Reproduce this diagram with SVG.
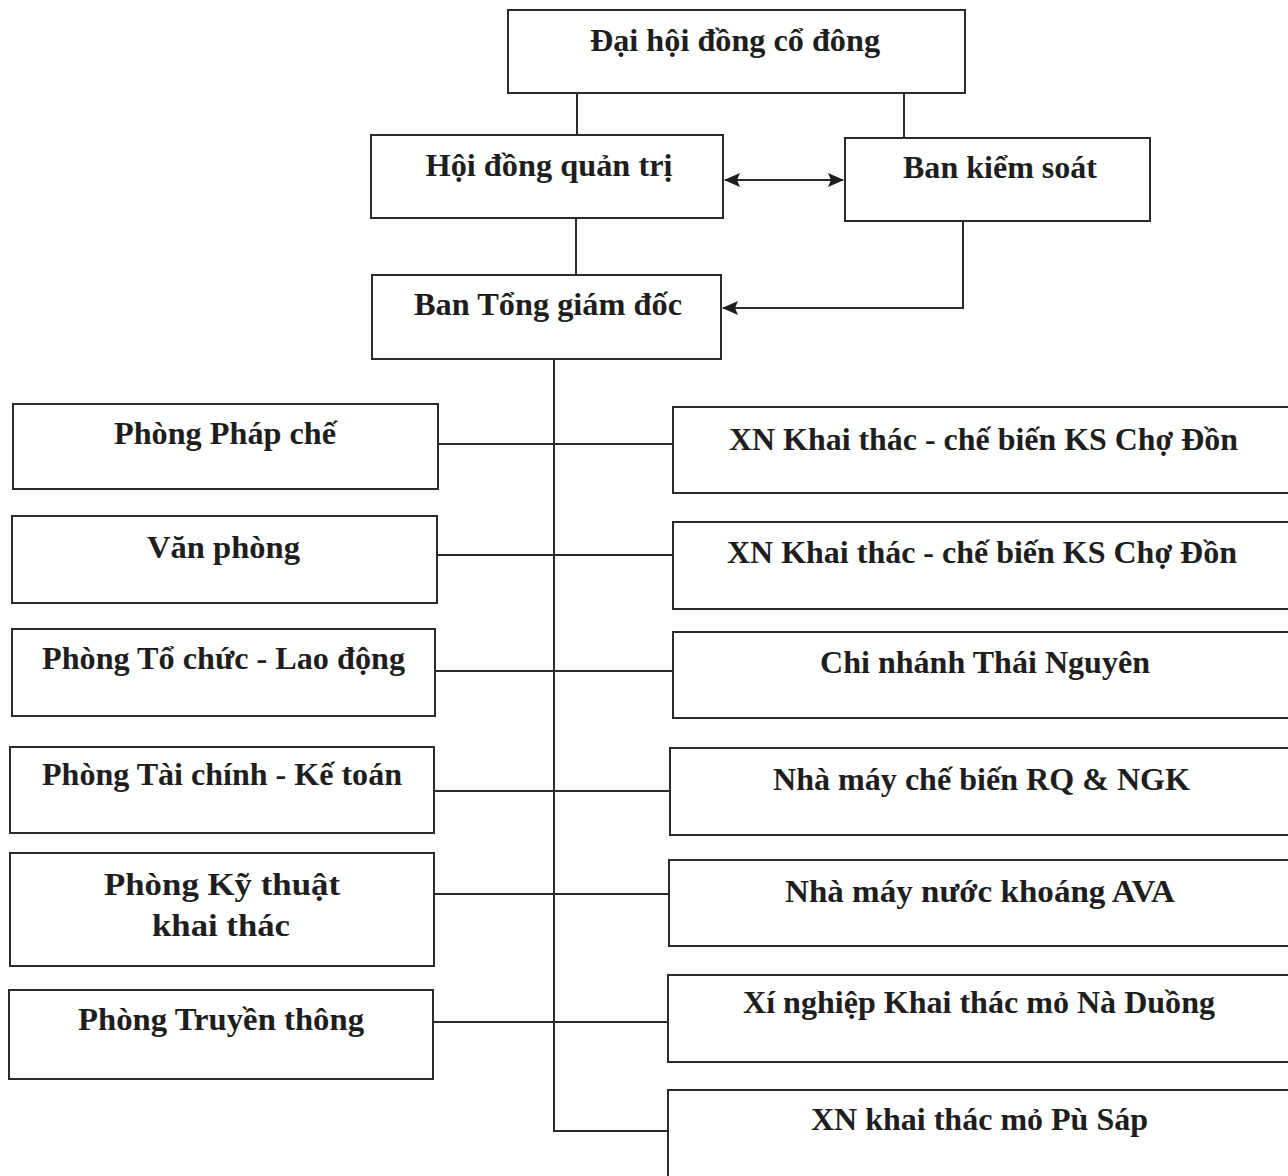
<svg xmlns="http://www.w3.org/2000/svg" width="1288" height="1176" viewBox="0 0 1288 1176">
<style>
.box{fill:#fff;stroke:#2b2b2b;stroke-width:2}
.t{font-family:"Liberation Serif","Times New Roman",serif;font-weight:bold;font-size:31px;fill:#1e1e1e;text-anchor:middle}
.c{fill:none;stroke:#2b2b2b;stroke-width:2}
</style>
<defs>
<marker id="ah" markerUnits="userSpaceOnUse" markerWidth="16" markerHeight="14" refX="15" refY="7" orient="auto-start-reverse">
<path d="M0,0 L16,7 L0,14 L3,7 Z" fill="#1e1e1e"/>
</marker>
</defs>
<rect width="1288" height="1176" fill="#fdfdfc"/>
<g id="connectors">
<path class="c" d="M577 93 V135"/>
<path class="c" d="M904 93 V138"/>
<path class="c" d="M725 180 H843" marker-start="url(#ah)" marker-end="url(#ah)"/>
<path class="c" d="M576 218 V275"/>
<path class="c" d="M963 221 V308 H723" marker-end="url(#ah)"/>
<path class="c" d="M554 359 V1131 H668"/>
<path class="c" d="M438 444 H673"/>
<path class="c" d="M437 555 H673"/>
<path class="c" d="M435 671 H673"/>
<path class="c" d="M434 791 H670"/>
<path class="c" d="M434 894 H669"/>
<path class="c" d="M433 1022 H668"/>
</g>
<g id="dhdcd"><rect class="box" x="508" y="10" width="457" height="83"/><text class="t" x="735" y="51" textLength="290" lengthAdjust="spacingAndGlyphs">Đại hội đồng cổ đông</text></g>
<g id="hdqt"><rect class="box" x="371" y="135" width="352" height="83"/><text class="t" x="549" y="176" textLength="247" lengthAdjust="spacingAndGlyphs">Hội đồng quản trị</text></g>
<g id="bks"><rect class="box" x="845" y="138" width="305" height="83"/><text class="t" x="1000" y="178" textLength="194" lengthAdjust="spacingAndGlyphs">Ban kiểm soát</text></g>
<g id="btgd"><rect class="box" x="372" y="275" width="349" height="84"/><text class="t" x="548" y="315" textLength="268" lengthAdjust="spacingAndGlyphs">Ban Tổng giám đốc</text></g>
<g id="phapche"><rect class="box" x="13" y="404" width="425" height="85"/><text class="t" x="225" y="444" textLength="222" lengthAdjust="spacingAndGlyphs">Phòng Pháp chế</text></g>
<g id="vanphong"><rect class="box" x="12" y="516" width="425" height="87"/><text class="t" x="223.5" y="558" textLength="153" lengthAdjust="spacingAndGlyphs">Văn phòng</text></g>
<g id="tochuc"><rect class="box" x="12" y="629" width="423" height="87"/><text class="t" x="223.5" y="669" textLength="363" lengthAdjust="spacingAndGlyphs">Phòng Tổ chức - Lao động</text></g>
<g id="taichinh"><rect class="box" x="10" y="747" width="424" height="86"/><text class="t" x="222" y="785" textLength="360" lengthAdjust="spacingAndGlyphs">Phòng Tài chính - Kế toán</text></g>
<g id="kythuat"><rect class="box" x="10" y="853" width="424" height="113"/><text class="t" x="222" y="895" textLength="236" lengthAdjust="spacingAndGlyphs">Phòng Kỹ thuật</text><text class="t" x="221" y="936" textLength="138" lengthAdjust="spacingAndGlyphs">khai thác</text></g>
<g id="truyenthong"><rect class="box" x="9" y="990" width="424" height="89"/><text class="t" x="221" y="1030" textLength="286" lengthAdjust="spacingAndGlyphs">Phòng Truyền thông</text></g>
<g id="xn1"><rect class="box" x="673" y="407" width="627" height="86"/><text class="t" x="983.5" y="450" textLength="509" lengthAdjust="spacingAndGlyphs">XN Khai thác - chế biến KS Chợ Đồn</text></g>
<g id="xn2"><rect class="box" x="673" y="522" width="627" height="87"/><text class="t" x="982" y="563" textLength="510" lengthAdjust="spacingAndGlyphs">XN Khai thác - chế biến KS Chợ Đồn</text></g>
<g id="thainguyen"><rect class="box" x="673" y="632" width="627" height="86"/><text class="t" x="985" y="673" textLength="330" lengthAdjust="spacingAndGlyphs">Chi nhánh Thái Nguyên</text></g>
<g id="rqngk"><rect class="box" x="670" y="748" width="630" height="87"/><text class="t" x="981.5" y="790" textLength="417" lengthAdjust="spacingAndGlyphs">Nhà máy chế biến RQ &amp; NGK</text></g>
<g id="ava"><rect class="box" x="669" y="860" width="631" height="86"/><text class="t" x="980" y="902" textLength="390" lengthAdjust="spacingAndGlyphs">Nhà máy nước khoáng AVA</text></g>
<g id="naduong"><rect class="box" x="668" y="975" width="632" height="87"/><text class="t" x="979" y="1013" textLength="472" lengthAdjust="spacingAndGlyphs">Xí nghiệp Khai thác mỏ Nà Duồng</text></g>
<g id="pusap"><rect class="box" x="668" y="1090" width="632" height="100"/><text class="t" x="979.5" y="1130" textLength="337" lengthAdjust="spacingAndGlyphs">XN khai thác mỏ Pù Sáp</text></g>
</svg>
